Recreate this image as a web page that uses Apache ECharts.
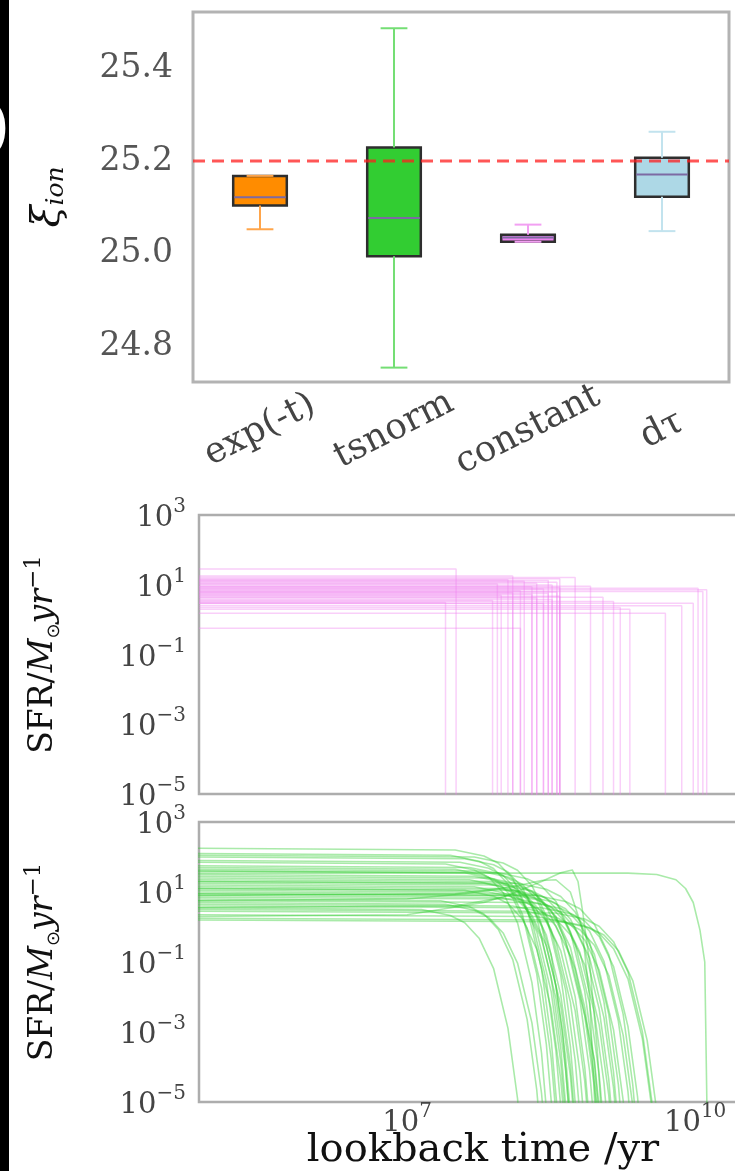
<!DOCTYPE html>
<html><head><meta charset="utf-8">
<script src="https://cdn.jsdelivr.net/npm/echarts@6/dist/echarts.min.js"></script>
<style>html,body{margin:0;padding:0;background:#fff;overflow:hidden}#c{width:735px;height:1171px}</style>
</head><body><div id="c"></div>
<script>
// ---------- DATA ----------
const categories = ['exp(-t)', 'tsnorm', 'constant', 'dτ'];
// [min, Q1, median, Q3, max]
const boxStats = [
  [25.053, 25.104, 25.122, 25.168, 25.168],
  [24.755, 24.995, 25.077, 25.229, 25.486],
  [25.026, 25.026, 25.035, 25.041, 25.063],
  [25.049, 25.123, 25.171, 25.207, 25.263]
];
const referenceXi = 25.2;
const topTicks = [24.8, 25.0, 25.2, 25.4];
const sfrTickExps = [-5, -3, -1, 1, 3];
const timeTickExps = [7, 10];

// constant SFH: log10 SFR level and log10 age (yr) where it stops
const constantLevelsLog = [1.45, 1.25, 1.21, 1.17, 1.14, 1.12, 1.10, 1.07, 1.04, 1.02, 0.99, 0.96, 0.94, 0.92, 0.90, 0.88,
  0.86, 0.83, 0.81, 0.79, 0.77, 0.75, 0.72, 0.70, 0.67, 0.64, 0.62, 0.58, 0.55, 0.52, 0.49, 0.46, 0.47, 0.40, 0.35, 0.30, 0.18, -0.25];
const constantAgesLog = [7.51, 8.10, 8.75, 8.59, 8.05, 8.47, 8.22, 8.56, 8.35, 7.94, 8.51, 8.91, 8.30, 8.59, 10.03, 8.42,
  10.12, 8.18, 10.08, 8.56, 8.10, 8.47, 8.30, 7.98, 8.59, 9.04, 8.35, 8.51, 7.89, 9.15, 7.40, 8.42, 9.98, 9.86, 9.22, 9.32, 9.69, 8.18];

// tsnorm SFH curves: [log10 lookback time, log10 SFR]
const tsnormCurvesLog = [
  [[4.8,2.25],[7.50,2.20],[7.80,2.03],[7.95,1.82],[8.10,1.38],[8.25,0.52],[8.40,-1.19],[8.50,-3.20],[8.60,-6.39]],
  [[4.8,2.10],[7.45,2.05],[7.75,1.88],[7.90,1.67],[8.05,1.23],[8.20,0.37],[8.35,-1.34],[8.45,-3.35],[8.55,-6.54]],
  [[4.8,2.00],[7.60,1.95],[7.90,1.78],[8.05,1.57],[8.20,1.13],[8.35,0.27],[8.50,-1.44],[8.60,-3.45],[8.70,-6.64]],
  [[4.8,1.90],[7.55,1.85],[7.85,1.68],[8.00,1.47],[8.15,1.03],[8.30,0.17],[8.45,-1.54],[8.55,-3.55],[8.65,-6.74]],
  [[4.8,1.85],[7.40,1.80],[7.70,1.63],[7.85,1.42],[8.00,0.98],[8.15,0.12],[8.30,-1.59],[8.40,-3.60],[8.50,-6.79]],
  [[4.8,1.75],[7.65,1.70],[7.95,1.53],[8.10,1.32],[8.25,0.88],[8.40,0.02],[8.55,-1.69],[8.65,-3.70],[8.75,-6.89]],
  [[4.8,1.70],[7.50,1.65],[7.80,1.48],[7.95,1.27],[8.10,0.83],[8.25,-0.03],[8.40,-1.74],[8.50,-3.75],[8.60,-6.94]],
  [[4.8,1.65],[7.75,1.60],[8.05,1.43],[8.20,1.22],[8.35,0.78],[8.50,-0.08],[8.65,-1.79],[8.75,-3.80],[8.85,-6.99]],
  [[4.8,1.60],[7.60,1.55],[7.90,1.38],[8.05,1.17],[8.20,0.73],[8.35,-0.13],[8.50,-1.84],[8.60,-3.85],[8.70,-7.04]],
  [[4.8,1.54],[9.30,1.54],[9.60,1.50],[9.80,1.35],[9.90,1.10],[9.98,0.70],[10.05,-0.09],[10.10,-1.00],[10.13,-6.50]],
  [[4.8,1.50],[7.70,1.45],[8.00,1.28],[8.15,1.07],[8.30,0.63],[8.45,-0.23],[8.60,-1.94],[8.70,-3.95],[8.80,-7.14]],
  [[4.8,1.45],[7.85,1.40],[8.15,1.23],[8.30,1.02],[8.45,0.58],[8.60,-0.28],[8.75,-1.99],[8.85,-4.00],[8.95,-7.19]],
  [[4.8,1.40],[7.65,1.35],[7.95,1.18],[8.10,0.97],[8.25,0.53],[8.40,-0.33],[8.55,-2.04],[8.65,-4.05],[8.75,-7.24]],
  [[4.8,1.35],[7.90,1.30],[8.20,1.13],[8.35,0.92],[8.50,0.48],[8.65,-0.38],[8.80,-2.09],[8.90,-4.10],[9.00,-7.29]],
  [[4.8,1.30],[7.80,1.25],[8.10,1.08],[8.25,0.87],[8.40,0.43],[8.55,-0.43],[8.70,-2.14],[8.80,-4.15],[8.90,-7.34]],
  [[4.8,1.25],[8.00,1.20],[8.30,1.03],[8.45,0.82],[8.60,0.38],[8.75,-0.48],[8.90,-2.19],[9.00,-4.20],[9.10,-7.39]],
  [[4.8,1.20],[7.70,1.15],[8.00,0.98],[8.15,0.77],[8.30,0.33],[8.45,-0.53],[8.60,-2.24],[8.70,-4.25],[8.80,-7.44]],
  [[4.8,1.15],[7.95,1.10],[8.25,0.93],[8.40,0.72],[8.55,0.28],[8.70,-0.58],[8.85,-2.29],[8.95,-4.30],[9.05,-7.49]],
  [[4.8,1.10],[8.10,1.05],[8.40,0.88],[8.55,0.67],[8.70,0.23],[8.85,-0.63],[9.00,-2.34],[9.10,-4.35],[9.20,-7.54]],
  [[4.8,1.05],[7.85,1.00],[8.15,0.83],[8.30,0.62],[8.45,0.18],[8.60,-0.68],[8.75,-2.39],[8.85,-4.40],[8.95,-7.59]],
  [[4.8,1.00],[8.05,0.95],[8.35,0.78],[8.50,0.57],[8.65,0.13],[8.80,-0.73],[8.95,-2.44],[9.05,-4.45],[9.15,-7.64]],
  [[4.8,0.95],[8.20,0.90],[8.50,0.73],[8.65,0.52],[8.80,0.08],[8.95,-0.78],[9.10,-2.49],[9.20,-4.50],[9.30,-7.69]],
  [[4.8,0.90],[7.95,0.85],[8.25,0.68],[8.40,0.47],[8.55,0.03],[8.70,-0.83],[8.85,-2.54],[8.95,-4.55],[9.05,-7.74]],
  [[4.8,0.85],[8.15,0.80],[8.45,0.63],[8.60,0.42],[8.75,-0.02],[8.90,-0.88],[9.05,-2.59],[9.15,-4.60],[9.25,-7.79]],
  [[4.8,0.80],[7.35,0.75],[7.65,0.58],[7.80,0.37],[7.95,-0.07],[8.10,-0.93],[8.25,-2.64],[8.35,-4.65],[8.45,-7.84]],
  [[4.8,0.75],[8.30,0.70],[8.60,0.53],[8.75,0.32],[8.90,-0.12],[9.05,-0.98],[9.20,-2.69],[9.30,-4.70],[9.40,-7.89]],
  [[4.8,0.70],[7.40,0.65],[7.70,0.48],[7.85,0.27],[8.00,-0.17],[8.15,-1.03],[8.30,-2.74],[8.40,-4.75],[8.50,-7.94]],
  [[4.8,0.65],[8.10,0.60],[8.40,0.43],[8.55,0.22],[8.70,-0.22],[8.85,-1.08],[9.00,-2.79],[9.10,-4.80],[9.20,-7.99]],
  [[4.8,0.60],[8.40,0.55],[8.70,0.38],[8.85,0.17],[9.00,-0.27],[9.15,-1.13],[9.30,-2.84],[9.40,-4.85],[9.50,-8.04]],
  [[4.8,0.55],[7.15,0.50],[7.45,0.33],[7.60,0.12],[7.75,-0.32],[7.90,-1.18],[8.05,-2.89],[8.15,-4.90],[8.25,-8.09]],
  [[4.8,0.50],[8.25,0.45],[8.55,0.28],[8.70,0.07],[8.85,-0.37],[9.00,-1.23],[9.15,-2.94],[9.25,-4.95],[9.35,-8.14]],
  [[4.8,0.45],[8.55,0.40],[8.85,0.23],[9.00,0.02],[9.15,-0.42],[9.30,-1.28],[9.45,-2.99],[9.55,-5.00],[9.65,-8.19]],
  [[4.8,0.35],[8.35,0.30],[8.65,0.13],[8.80,-0.08],[8.95,-0.52],[9.10,-1.38],[9.25,-3.09],[9.35,-5.10],[9.45,-8.29]],
  [[4.8,0.25],[8.55,0.20],[8.85,0.03],[9.00,-0.18],[9.15,-0.62],[9.30,-1.48],[9.45,-3.19],[9.55,-5.20],[9.65,-8.39]],
  [[4.8,0.20],[8.60,0.15],[8.90,-0.02],[9.05,-0.23],[9.20,-0.67],[9.35,-1.53],[9.50,-3.24],[9.60,-5.25],[9.70,-8.44]],
  [[4.8,1.30],[8.15,1.25],[8.45,1.08],[8.60,0.87],[8.75,0.43],[8.90,-0.43],[9.05,-2.14],[9.15,-4.15],[9.25,-7.34]],
  [[4.8,1.60],[7.95,1.55],[8.25,1.38],[8.40,1.17],[8.55,0.73],[8.70,-0.13],[8.85,-1.84],[8.95,-3.85],[9.05,-7.04]],
  [[4.8,0.95],[8.35,0.90],[8.65,0.73],[8.80,0.52],[8.95,0.08],[9.10,-0.78],[9.25,-2.49],[9.35,-4.50],[9.45,-7.69]],
  [[4.8,2.05],[7.70,2.00],[8.00,1.83],[8.15,1.62],[8.30,1.18],[8.45,0.32],[8.60,-1.39],[8.70,-3.40],[8.80,-6.59]],
  [[4.8,1.10],[7.60,1.05],[7.90,0.88],[8.05,0.67],[8.20,0.23],[8.35,-0.63],[8.50,-2.34],[8.60,-4.35],[8.70,-7.54]],
  [[4.8,0.55],[7.50,0.60],[8.00,0.85],[8.40,1.30],[8.60,1.55],[8.72,1.63],[8.78,1.30],[8.83,0.40],[8.90,-1.00],[8.98,-3.50],[9.05,-6.50]],
  [[4.8,0.75],[7.00,0.80],[7.60,0.95],[8.00,1.10],[8.20,1.00],[8.35,0.50],[8.50,-0.80],[8.62,-3.00],[8.72,-6.50]],
  [[4.8,0.30],[7.00,0.35],[7.80,0.70],[8.10,0.95],[8.35,0.90],[8.55,0.30],[8.75,-1.20],[8.95,-3.80],[9.05,-6.50]],
  [[4.8,0.90],[7.50,0.95],[8.10,1.15],[8.40,1.33],[8.55,1.35],[8.70,1.00],[8.82,0.00],[8.90,-2.00],[8.98,-6.50]]
];

// ---------- STYLE ----------
const boxFill = ['#ff8c00', '#32cd32', '#ee82ee', '#add8e6'];
const whiskerColor = ['#ffa54a', '#74de74', '#f2a0f2', '#c2e3ee'];
const serif = 'DejaVu Serif';
const T_MIN = 6.8e4, T_MAX = 5.6e10, SFR_MIN = 1e-5, SFR_MAX = 1e3;

function isNear(v, list) { return list.some(t => Math.abs(t - v) < 1e-6); }
function supLabel(v, list) {
  const e = Math.log10(v), r = Math.round(e);
  if (Math.abs(e - r) < 1e-4 && list.includes(r)) return '{b|10}{s|' + (r < 0 ? '\u2212' + (-r) : r) + '}';
  return '';
}
const supRich = {
  b: { fontFamily: serif, fontSize: 29, color: '#444', lineHeight: 36, verticalAlign: 'bottom' },
  s: { fontFamily: serif, fontSize: 20, color: '#444', lineHeight: 20, verticalAlign: 'top' }
};
const sfrName = '{r|SFR/}{i|M}{d|\u2299}{i|yr}{u|\u22121}';
const sfrRich = {
  r: { fontFamily: serif, fontSize: 33, color: '#111', lineHeight: 40, verticalAlign: 'middle' },
  i: { fontFamily: serif, fontSize: 33, fontStyle: 'italic', color: '#111', lineHeight: 40, verticalAlign: 'middle' },
  d: { fontFamily: 'DejaVu Sans', fontSize: 18, color: '#111', lineHeight: 18, verticalAlign: 'bottom' },
  u: { fontFamily: serif, fontSize: 23, color: '#111', lineHeight: 22, verticalAlign: 'top' }
};

// ---------- BUILD ----------
const boxData = boxStats.map((s, i) => [i].concat(s));
const constantSeries = constantLevelsLog.map((lv, i) => ({
  type: 'line', xAxisIndex: 1, yAxisIndex: 1, symbol: 'none', silent: true, animation: false,
  lineStyle: { color: 'rgba(238,130,238,0.38)', width: 1.5 },
  data: [[T_MIN, Math.pow(10, lv)], [Math.pow(10, constantAgesLog[i]), Math.pow(10, lv)], [Math.pow(10, constantAgesLog[i]), 1e-7]]
}));
const tsnormSeries = tsnormCurvesLog.map(c => ({
  type: 'line', xAxisIndex: 2, yAxisIndex: 2, symbol: 'none', silent: true, animation: false,
  smooth: false,
  lineStyle: { color: 'rgba(50,205,50,0.42)', width: 1.6, join: 'round' },
  data: c.map(p => [Math.pow(10, p[0]), Math.pow(10, p[1])])
}));

const chart = echarts.init(document.getElementById('c'), null, { renderer: 'canvas' });
const logY = (gi) => ({
  type: 'log', gridIndex: gi, min: SFR_MIN, max: SFR_MAX,
  axisLine: { show: false }, axisTick: { show: false }, splitLine: { show: false },
  axisLabel: { margin: 13, formatter: v => supLabel(v, sfrTickExps), rich: supRich },
  name: sfrName, nameLocation: 'middle', nameRotate: 90, nameGap: 136,
  nameTextStyle: { rich: sfrRich }
});
const logX = (gi, labels) => ({
  type: 'log', gridIndex: gi, min: T_MIN, max: T_MAX,
  axisLine: { show: false }, axisTick: { show: false }, splitLine: { show: false },
  axisLabel: labels ? { margin: 0, formatter: v => supLabel(v, timeTickExps), rich: supRich } : { show: false },
  name: labels ? 'lookback time /yr' : '', nameLocation: 'middle', nameGap: 28, nameMoveOverlap: false,
  nameTextStyle: { fontFamily: serif, fontSize: 40, color: '#111', lineHeight: 42 }
});

chart.setOption({
  animation: false,
  backgroundColor: '#fff',
  grid: [
    { left: 193, top: 12, width: 536, height: 370, show: true, borderColor: '#b3b3b3', borderWidth: 3, backgroundColor: '#fff', outerBoundsMode: 'none' },
    { left: 199, top: 515, width: 568, height: 279, show: true, borderColor: '#adadad', borderWidth: 2.5, backgroundColor: '#fff', outerBoundsMode: 'none' },
    { left: 199, top: 822, width: 568, height: 280, show: true, borderColor: '#adadad', borderWidth: 2.5, backgroundColor: '#fff', outerBoundsMode: 'none' }
  ],
  xAxis: [
    { type: 'category', gridIndex: 0, data: categories,
      axisLine: { show: false }, axisTick: { show: false }, splitLine: { show: false },
      axisLabel: { rotate: 27, margin: 48, align: 'center', verticalAlign: 'middle', fontFamily: serif, fontSize: 36, color: '#444' } },
    logX(1, false),
    logX(2, true),
    { type: 'value', gridIndex: 0, min: 0, max: 1, show: false }
  ],
  yAxis: [
    { type: 'value', gridIndex: 0, min: 24.724, max: 25.521,
      axisLine: { show: false }, axisTick: { show: false }, splitLine: { show: false },
      axisLabel: { margin: 20, fontFamily: serif, fontSize: 33, color: '#555',
        formatter: v => isNear(v, topTicks) ? v.toFixed(1) : '' },
      name: '{x|\u03be}{s|ion}', nameLocation: 'middle', nameRotate: 90, nameGap: 124,
      nameTextStyle: { rich: {
        x: { fontFamily: serif, fontStyle: 'italic', fontSize: 40, color: '#111', lineHeight: 44, verticalAlign: 'bottom' },
        s: { fontFamily: serif, fontStyle: 'italic', fontSize: 25, color: '#111', lineHeight: 25, verticalAlign: 'bottom' }
      } } },
    logY(1),
    logY(2)
  ],
  series: [
    { type: 'custom', xAxisIndex: 0, yAxisIndex: 0, data: boxData, silent: true, z: 3,
      renderItem: function (params, api) {
        const i = api.value(0);
        const bw = api.size([1, 0])[0] * 0.4;
        const pMin = api.coord([i, api.value(1)]);
        const pQ1 = api.coord([i, api.value(2)]);
        const pMed = api.coord([i, api.value(3)]);
        const pQ3 = api.coord([i, api.value(4)]);
        const pMax = api.coord([i, api.value(5)]);
        const x = pMin[0];
        const wc = whiskerColor[i];
        const wl = { stroke: wc, lineWidth: 2 };
        return { type: 'group', children: [
          { type: 'rect', shape: { x: x - bw / 2, y: pQ3[1], width: bw, height: pQ1[1] - pQ3[1] },
            style: { fill: boxFill[i], stroke: '#2e2e2e', lineWidth: 2.5 } },
          { type: 'line', shape: { x1: x, y1: pMax[1], x2: x, y2: pQ3[1] }, style: wl },
          { type: 'line', shape: { x1: x, y1: pQ1[1], x2: x, y2: pMin[1] }, style: wl },
          { type: 'line', shape: { x1: x - bw / 4, y1: pMax[1], x2: x + bw / 4, y2: pMax[1] }, style: wl },
          { type: 'line', shape: { x1: x - bw / 4, y1: pMin[1], x2: x + bw / 4, y2: pMin[1] }, style: wl },
          { type: 'line', shape: { x1: x - bw / 2 + 1, y1: pMed[1], x2: x + bw / 2 - 1, y2: pMed[1] },
            style: { stroke: '#7d6aa3', lineWidth: 2 } }
        ] };
      } },
    { type: 'line', xAxisIndex: 3, yAxisIndex: 0, symbol: 'none', silent: true, z: 5,
      data: [[0, referenceXi], [1, referenceXi]],
      lineStyle: { color: 'rgba(255,30,30,0.75)', width: 3, type: [12, 7] } }
  ].concat(constantSeries, tsnormSeries),
  graphic: [
    { type: 'rect', left: 0, top: 0, shape: { width: 9, height: 1171 }, style: { fill: '#000' }, z: 100 },
    { type: 'text', x: -14, y: 100, style: { text: ')', fill: '#fff', font: '62px "DejaVu Serif"' }, z: 101 }
  ]
});
</script></body></html>
